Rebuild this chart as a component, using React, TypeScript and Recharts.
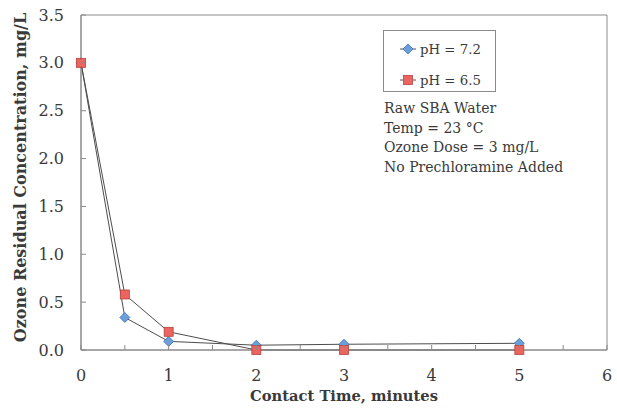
import React from 'react';
import {
  LineChart,
  Line,
  XAxis,
  YAxis,
  ReferenceArea,
  Legend,
  Label,
} from 'recharts';

const TIMES = [0, 0.5, 1, 2, 3, 5];
const PH72 = [3.0, 0.34, 0.09, 0.05, 0.06, 0.07];
const PH65 = [3.0, 0.58, 0.19, 0.0, 0.0, 0.0];

const X_TICKS = [0, 0.5, 1, 1.5, 2, 2.5, 3, 3.5, 4, 4.5, 5, 5.5, 6];
const Y_TICKS = [0, 0.5, 1, 1.5, 2, 2.5, 3, 3.5];

const NOTES = [
  'Raw SBA Water',
  'Temp = 23 °C',
  'Ozone Dose = 3 mg/L',
  'No Prechloramine Added',
];

const FONT = '"DejaVu Serif", serif';
const TEXT = '#3a3a3a';
const AXIS = '#8a8a8a';

const data = TIMES.map((t, i) => ({ t, a: PH72[i], b: PH65[i] }));

function Diamond(props: any) {
  const { cx, cy } = props;
  if (cx == null || cy == null) return null;
  const r = 5;
  return (
    <polygon
      points={`${cx},${cy - r} ${cx + r},${cy} ${cx},${cy + r} ${cx - r},${cy}`}
      fill="#6b9fdc"
      stroke="#3f6fae"
      strokeWidth={0.8}
    />
  );
}

function Square(props: any) {
  const { cx, cy } = props;
  if (cx == null || cy == null) return null;
  const r = 4.5;
  return (
    <rect
      x={cx - r}
      y={cy - r}
      width={r * 2}
      height={r * 2}
      fill="#ea6460"
      stroke="#b8423f"
      strokeWidth={0.8}
    />
  );
}

function XTick(props: any) {
  const { x, y, payload } = props;
  const v = payload.value;
  const isMajor = Number.isInteger(v);
  return (
    <g>
      <line x1={x} x2={x} y1={y} y2={y - 5} stroke={AXIS} />
      {isMajor && (
        <text x={x} y={y + 31} textAnchor="middle" fontSize={16} fill={TEXT} fontFamily={FONT}>
          {v}
        </text>
      )}
    </g>
  );
}

function YTick(props: any) {
  const { x, y, payload } = props;
  return (
    <g>
      <line x1={x} x2={x + 5} y1={y} y2={y} stroke={AXIS} />
      <text x={x - 17} y={y + 5.5} textAnchor="end" fontSize={16} fill={TEXT} fontFamily={FONT}>
        {payload.value.toFixed(1)}
      </text>
    </g>
  );
}

function LegendMarker({ kind }: { kind: 'diamond' | 'square' }) {
  return (
    <svg width={18} height={12} style={{ display: 'block' }}>
      <line x1={1} x2={17} y1={6} y2={6} stroke="#555" strokeWidth={1} />
      {kind === 'diamond' ? <Diamond cx={9} cy={6} /> : <Square cx={9} cy={6} />}
    </svg>
  );
}

// zero-height wrapper so the legend does not shrink the plot area
function NotesLegend() {
  return (
    <div style={{ height: 0, overflow: 'visible' }}>
      <div style={{ fontFamily: FONT, color: TEXT, fontSize: 14, textAlign: 'left' }}>
        <div
          style={{
            width: 113,
            height: 62,
            border: `1px solid ${AXIS}`,
            boxSizing: 'border-box',
            padding: '8px 0 0 15px',
            fontSize: 13.3,
          }}
        >
          <div style={{ display: 'flex', alignItems: 'center', gap: 3, height: 20 }}>
            <LegendMarker kind="diamond" />
            <span>pH = 7.2</span>
          </div>
          <div style={{ display: 'flex', alignItems: 'center', gap: 3, height: 20, marginTop: 11 }}>
            <LegendMarker kind="square" />
            <span>pH = 6.5</span>
          </div>
        </div>
        <div style={{ marginTop: 7, marginLeft: 1, lineHeight: '19.5px' }}>
          {NOTES.map((n) => (
            <div key={n}>{n}</div>
          ))}
        </div>
      </div>
    </div>
  );
}

export default function App() {
  return (
    <div style={{ position: 'absolute', left: 0, top: 0, background: '#fff' }}>
      <LineChart
        width={617}
        height={410}
        data={data}
        margin={{ top: 15, right: 10, bottom: 0, left: 0 }}
      >
        <XAxis
          dataKey="t"
          type="number"
          domain={[0, 6]}
          ticks={X_TICKS}
          interval={0}
          height={60}
          tickSize={0}
          tickMargin={0}
          tickLine={false}
          axisLine={{ stroke: AXIS }}
          tick={<XTick />}
        >
          <Label
            content={(p: any) => {
              const vb = p.viewBox;
              return (
                <text
                  x={vb.x + vb.width / 2}
                  y={vb.y + 51}
                  textAnchor="middle"
                  fontSize={14.7}
                  fontWeight="bold"
                  fill={TEXT}
                  fontFamily={FONT}
                >
                  Contact Time, minutes
                </text>
              );
            }}
          />
        </XAxis>
        <YAxis
          type="number"
          domain={[0, 3.5]}
          ticks={Y_TICKS}
          interval={0}
          width={81}
          tickSize={0}
          tickMargin={0}
          tickLine={false}
          axisLine={{ stroke: AXIS }}
          tick={<YTick />}
        >
          <Label
            content={(p: any) => {
              const vb = p.viewBox;
              const cx = 20;
              const cy = vb.y + vb.height / 2 - 5;
              return (
                <text
                  x={cx}
                  y={cy}
                  transform={`rotate(-90, ${cx}, ${cy})`}
                  textAnchor="middle"
                  dominantBaseline="central"
                  fontSize={16}
                  fontWeight="bold"
                  fill={TEXT}
                  fontFamily={FONT}
                >
                  Ozone Residual Concentration, mg/L
                </text>
              );
            }}
          />
        </YAxis>
        <ReferenceArea x1={0} x2={6} y1={0} y2={3.5} fill="none" stroke={AXIS} strokeWidth={1} />
        <Legend
          content={<NotesLegend />}
          wrapperStyle={{ position: 'absolute', left: 383, top: 30, width: 'auto', height: 0 }}
        />
        <Line
          dataKey="a"
          name="pH = 7.2"
          stroke="#4d4d4d"
          strokeWidth={1}
          dot={<Diamond />}
          activeDot={false}
          isAnimationActive={false}
        />
        <Line
          dataKey="b"
          name="pH = 6.5"
          stroke="#4d4d4d"
          strokeWidth={1}
          dot={<Square />}
          activeDot={false}
          isAnimationActive={false}
        />
      </LineChart>
    </div>
  );
}
